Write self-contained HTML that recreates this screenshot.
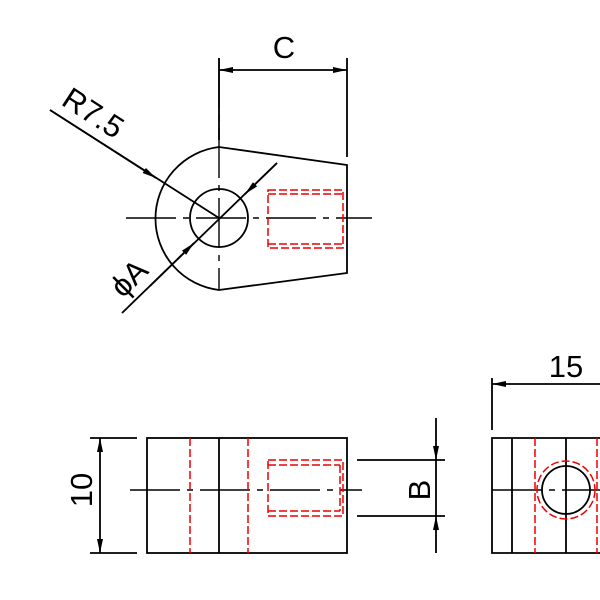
<!DOCTYPE html>
<html><head><style>body{margin:0;background:#fff}svg{display:block}</style></head><body>
<svg width="600" height="600" viewBox="0 0 600 600" xmlns="http://www.w3.org/2000/svg" font-family="Liberation Sans, sans-serif">
<defs>
<marker id="a" viewBox="0 0 14 6" refX="14" refY="3" markerWidth="14" markerHeight="6" orient="auto" markerUnits="userSpaceOnUse"><path d="M0,0 L14,3 L0,6 Z" fill="#000"/></marker>
</defs>
<g stroke="#000" stroke-width="1.8" fill="none">
<!-- top view -->
<path d="M219,147 A72,72 0 0 0 219,290 L347,273 L347,165 Z"/>
<circle cx="219" cy="218" r="29"/>
<line x1="126" y1="218" x2="372" y2="218" stroke-dasharray="50,7,6,7" stroke-width="1.4"/>
<line x1="219" y1="58" x2="219" y2="290" stroke-dasharray="50,7,6,7" stroke-width="1.4"/>
<line x1="219" y1="58" x2="219" y2="140"/>
<line x1="347" y1="58" x2="347" y2="157"/>
<line x1="235" y1="70" x2="219" y2="70" marker-end="url(#a)"/>
<line x1="235" y1="70" x2="347" y2="70" marker-end="url(#a)"/>
<line x1="50" y1="110" x2="219" y2="218"/>
<line x1="50" y1="110" x2="156" y2="178" marker-end="url(#a)"/>
<line x1="122" y1="313" x2="277" y2="163"/>
<line x1="150" y1="286" x2="194" y2="243" marker-end="url(#a)"/>
<line x1="277" y1="163" x2="245" y2="194" marker-end="url(#a)"/>
<!-- front view -->
<rect x="147" y="438" width="200" height="115"/>
<line x1="219" y1="438" x2="219" y2="553"/>
<line x1="130" y1="490" x2="362" y2="490" stroke-dasharray="50,7,6,7" stroke-width="1.4"/>
<line x1="90" y1="438" x2="137" y2="438"/>
<line x1="90" y1="553" x2="137" y2="553"/>
<line x1="100" y1="490" x2="100" y2="438" marker-end="url(#a)"/>
<line x1="100" y1="490" x2="100" y2="553" marker-end="url(#a)"/>
<line x1="357" y1="460" x2="445" y2="460"/>
<line x1="357" y1="516" x2="445" y2="516"/>
<line x1="436" y1="418" x2="436" y2="460" marker-end="url(#a)"/>
<line x1="436" y1="553" x2="436" y2="516" marker-end="url(#a)"/>
<line x1="436" y1="460" x2="436" y2="516"/>
<!-- side view -->
<path d="M602,438 L492,438 L492,553 L602,553"/>
<line x1="512" y1="438" x2="512" y2="553"/>
<line x1="566" y1="438" x2="566" y2="553"/>
<circle cx="566" cy="490" r="24"/>
<line x1="492" y1="490" x2="600" y2="490" stroke-dasharray="50,7,6,7" stroke-width="1.4"/>
<line x1="492" y1="378" x2="492" y2="430"/>
<line x1="602" y1="384" x2="492" y2="384" marker-end="url(#a)"/>
</g>
<g stroke="#e00" stroke-width="1.5" fill="none" stroke-dasharray="8,3">
<rect x="268" y="190" width="75" height="58"/>
<line x1="268" y1="194" x2="343" y2="194"/>
<line x1="268" y1="244" x2="343" y2="244"/>
<line x1="190" y1="438" x2="190" y2="553"/>
<line x1="248" y1="438" x2="248" y2="553"/>
<rect x="268" y="460" width="75" height="56"/>
<line x1="268" y1="465" x2="340" y2="465"/>
<line x1="268" y1="511" x2="340" y2="511"/>
<line x1="340" y1="465" x2="340" y2="511"/>
<line x1="535" y1="438" x2="535" y2="553"/>
<line x1="597" y1="438" x2="597" y2="553"/>
<circle cx="566" cy="490" r="29"/>
</g>
<g fill="#000" font-size="31">
<text x="284" y="58" text-anchor="middle">C</text>
<text x="566" y="377" text-anchor="middle">15</text>
<text transform="translate(60,104) rotate(33)">R7.5</text>
<text transform="translate(123,299) rotate(-45)">ϕA</text>
<text transform="translate(92,490) rotate(-90)" text-anchor="middle">10</text>
<text transform="translate(430,490) rotate(-90)" text-anchor="middle">B</text>
</g>
</svg>
</body></html>
